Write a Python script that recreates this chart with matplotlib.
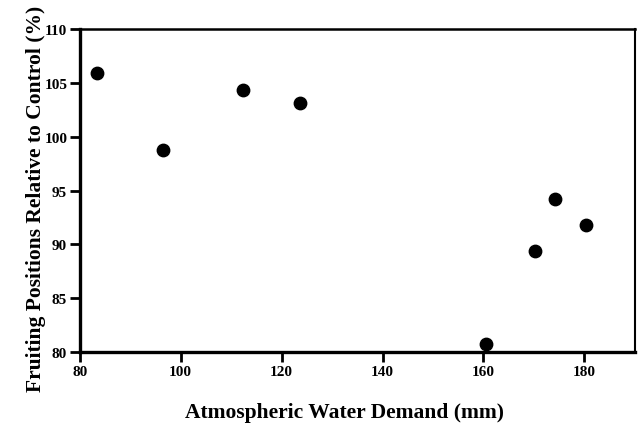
import matplotlib
matplotlib.use("Agg")
import matplotlib.pyplot as plt

water_demand = [83.4, 96.5, 112.3, 123.6, 160.6, 170.3, 174.2, 180.4]
fruiting_pct = [105.9, 98.8, 104.3, 103.1, 80.75, 89.4, 94.2, 91.8]
x_ticks = [80, 100, 120, 140, 160, 180]
y_ticks = [80, 85, 90, 95, 100, 105, 110]

plt.rcParams['font.family'] = ['Liberation Serif', 'DejaVu Serif']
plt.rcParams['font.weight'] = 'bold'

fig = plt.figure(figsize=(6.38, 4.27), dpi=100)
ax = fig.add_axes([0.125, 0.173, 0.87, 0.757])
ax.scatter(water_demand, fruiting_pct, s=80, color='black', zorder=3, clip_on=False)
ax.set_xlim(80, 190)
ax.set_ylim(80, 110)
ax.set_xticks(x_ticks)
ax.set_yticks(y_ticks)
for lab in ax.get_xticklabels() + ax.get_yticklabels():
    lab.set_fontweight('bold')
ax.tick_params(axis='both', direction='out', length=7, width=2, labelsize=11, pad=2)
ax.spines['left'].set_linewidth(2.4)
ax.spines['bottom'].set_linewidth(2.4)
ax.spines['top'].set_linewidth(1.8)
ax.spines['right'].set_linewidth(1.5)
ax.set_xlabel('Atmospheric Water Demand (mm)', fontsize=15.5, fontweight='bold')
ax.set_ylabel('Fruiting Positions Relative to Control (%)', fontsize=15.5, fontweight='bold')
ax.xaxis.set_label_coords(0.477, -0.155)
ax.yaxis.set_label_coords(-0.061, 0.477)
fig.savefig('out.png', dpi=100)
